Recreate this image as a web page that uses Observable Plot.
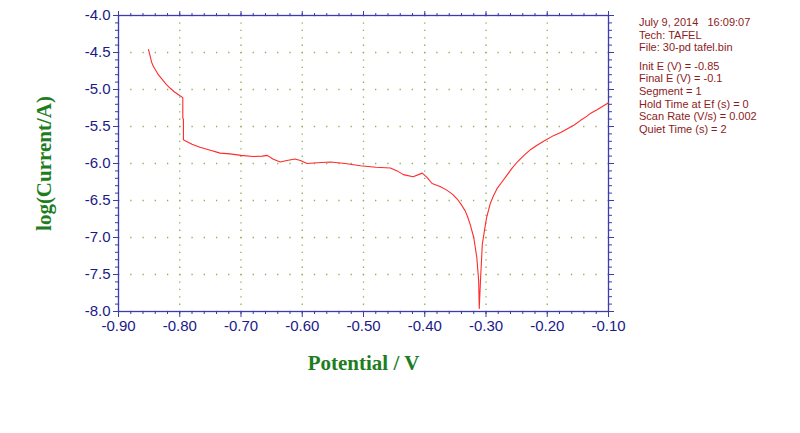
<!DOCTYPE html>
<html>
<head>
<meta charset="utf-8">
<script src="https://cdn.jsdelivr.net/npm/d3@7"></script>
<script src="https://cdn.jsdelivr.net/npm/@observablehq/plot@0.6"></script>
<style>
  html, body { margin: 0; padding: 0; background: #fff; }
  #wrap { position: relative; width: 800px; height: 433px; }
  #info { position: absolute; left: 639px; top: 16px; font: 11px "Liberation Sans", Arial, sans-serif; color: #8c1c1c; line-height: 12.6px; white-space: pre; }
  #info .gap { height: 6px; }
  g[aria-label="x-axis label"] text, g[aria-label="y-axis label"] text {
    font-family: "Liberation Serif", "Times New Roman", serif; font-weight: bold; font-size: 21px; fill: #1e7d1e;
  }
</style>
</head>
<body>
<div id="wrap"><div id="info"></div></div>
<script>
// Potential (V)
const potential = [
  -0.851, -0.848, -0.846, -0.843, -0.840, -0.835, -0.829, -0.822, -0.816, -0.809,
  -0.802, -0.795, -0.795, -0.794, -0.794, -0.792, -0.780, -0.767, -0.750, -0.734,
  -0.718, -0.700, -0.680, -0.665, -0.657, -0.648, -0.636, -0.625, -0.612, -0.603,
  -0.592, -0.575, -0.554, -0.530, -0.505, -0.480, -0.456, -0.445, -0.435, -0.419,
  -0.404, -0.396, -0.388, -0.375, -0.364, -0.354, -0.347, -0.340, -0.334, -0.330,
  -0.326, -0.320, -0.315, -0.312, -0.311, -0.309, -0.306, -0.302, -0.299, -0.293,
  -0.288, -0.282, -0.274, -0.266, -0.258, -0.249, -0.238, -0.227, -0.216, -0.206,
  -0.189, -0.178, -0.167, -0.156, -0.146, -0.135, -0.129, -0.118, -0.110, -0.100
];
// log(Current/A)
const logCurrent = [
  -4.46, -4.56, -4.63, -4.69, -4.73, -4.80, -4.86, -4.93, -4.98, -5.03,
  -5.07, -5.11, -5.39, -5.40, -5.68, -5.69, -5.74, -5.78, -5.82, -5.86,
  -5.87, -5.89, -5.905, -5.90, -5.89, -5.94, -5.98, -5.96, -5.94, -5.96,
  -6.00, -5.99, -5.98, -6.00, -6.03, -6.05, -6.06, -6.10, -6.15, -6.18,
  -6.13, -6.19, -6.27, -6.31, -6.36, -6.42, -6.48, -6.56, -6.64, -6.72,
  -6.82, -7.00, -7.27, -7.58, -7.96, -7.58, -7.09, -6.88, -6.73, -6.54,
  -6.44, -6.34, -6.25, -6.16, -6.07, -5.98, -5.89, -5.81, -5.75, -5.70,
  -5.62, -5.58, -5.53, -5.48, -5.42, -5.36, -5.32, -5.27, -5.23, -5.18
];
const xTicks = [-0.9, -0.8, -0.7, -0.6, -0.5, -0.4, -0.3, -0.2, -0.1];
const yTicks = [-8.0, -7.5, -7.0, -6.5, -6.0, -5.5, -5.0, -4.5, -4.0];
const xMinor = d3.range(0, 41).map(i => -0.9 + i * 0.02);
const yMinor = d3.range(0, 41).map(i => -8 + i * 0.1);
const info = [
  "July 9, 2014   16:09:07",
  "Tech: TAFEL",
  "File: 30-pd tafel.bin",
  "",
  "Init E (V) = -0.85",
  "Final E (V) = -0.1",
  "Segment = 1",
  "Hold Time at Ef (s) = 0",
  "Scan Rate (V/s) = 0.002",
  "Quiet Time (s) = 2"
];

const data = potential.map((x, i) => ({x, y: logCurrent[i]}));
const axisColor = "#3c3cb0";
const labelColor = "#1a1a88";

const chart = Plot.plot({
  width: 800,
  height: 433,
  marginLeft: 118,
  marginRight: 192,
  marginTop: 15,
  marginBottom: 122,
  x: {domain: [-0.9, -0.1]},
  y: {domain: [-8, -4]},
  style: {fontFamily: "'Liberation Sans', Arial, sans-serif", fontSize: "15px", color: labelColor, background: "white"},
  marks: [
    Plot.gridX(xTicks, {stroke: "#8db050", strokeOpacity: 1, strokeWidth: 1.3, strokeDasharray: "1.3,6.1"}),
    Plot.gridY(yTicks, {stroke: "#8db050", strokeOpacity: 1, strokeWidth: 1.3, strokeDasharray: "1.3,10.94"}),
    Plot.axisX(xMinor, {anchor: "bottom", tickSize: 3, tickFormat: () => "", stroke: axisColor, label: null}),
    Plot.axisX(xTicks, {anchor: "bottom", tickSize: 6, tickPadding: 3, tickFormat: d => d.toFixed(2), stroke: axisColor, fill: labelColor,
      label: "Potential / V", labelAnchor: "center", labelArrow: "none", labelOffset: 58}),
    Plot.axisX(xMinor, {anchor: "top", tickSize: 3, tickFormat: () => "", stroke: axisColor, label: null}),
    Plot.axisX(xTicks, {anchor: "top", tickSize: 5, tickFormat: () => "", stroke: axisColor, label: null}),
    Plot.axisY(yMinor, {anchor: "left", tickSize: 3, tickFormat: () => "", stroke: axisColor, label: null}),
    Plot.axisY(yTicks, {anchor: "left", tickSize: 5, tickPadding: 3, tickFormat: d => d.toFixed(1), stroke: axisColor, fill: labelColor,
      label: "log(Current/A)", labelAnchor: "center", labelArrow: "none", labelOffset: 82}),
    Plot.axisY(yMinor, {anchor: "right", tickSize: 3, tickFormat: () => "", stroke: axisColor, label: null}),
    Plot.axisY(yTicks, {anchor: "right", tickSize: 5, tickFormat: () => "", stroke: axisColor, label: null}),
    Plot.frame({stroke: axisColor, strokeWidth: 1.3}),
    Plot.line(data, {x: "x", y: "y", stroke: "#ff2a2a", strokeWidth: 1.1})
  ]
});
document.getElementById("wrap").prepend(chart);
const infoEl = document.getElementById("info");
info.forEach(t => {
  const d = document.createElement("div");
  if (t === "") d.className = "gap"; else d.textContent = t;
  infoEl.appendChild(d);
});
</script>
</body>
</html>
